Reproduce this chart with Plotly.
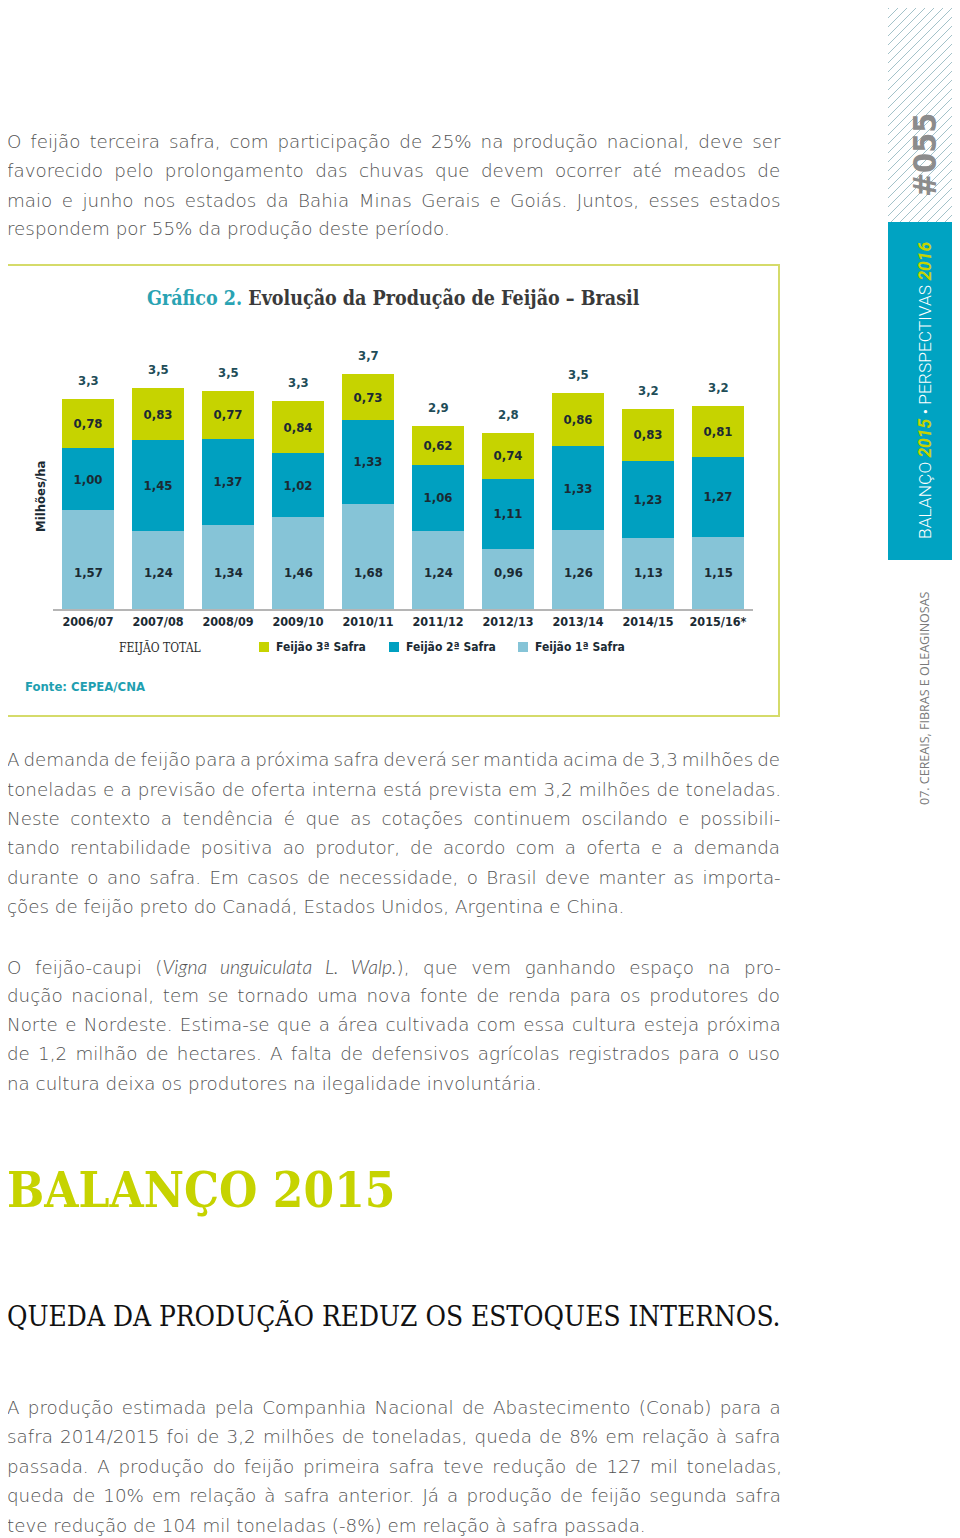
import plotly.graph_objects as go

# ---------------- data ----------------
safras = ["2006/07", "2007/08", "2008/09", "2009/10", "2010/11",
          "2011/12", "2012/13", "2013/14", "2014/15", "2015/16*"]
safra1 = [1.57, 1.24, 1.34, 1.46, 1.68, 1.24, 0.96, 1.26, 1.13, 1.15]
safra2 = [1.00, 1.45, 1.37, 1.02, 1.33, 1.06, 1.11, 1.33, 1.23, 1.27]
safra3 = [0.78, 0.83, 0.77, 0.84, 0.73, 0.62, 0.74, 0.86, 0.83, 0.81]
total_labels = ["3,3", "3,5", "3,5", "3,3", "3,7", "2,9", "2,8", "3,5", "3,2", "3,2"]
series_names = ["Feijão 3ª Safra", "Feijão 2ª Safra", "Feijão 1ª Safra"]

para1 = [
    "O feijão terceira safra, com participação de 25% na produção nacional, deve ser",
    "favorecido pelo prolongamento das chuvas que devem ocorrer até meados de",
    "maio e junho nos estados da Bahia Minas Gerais e Goiás. Juntos, esses estados",
    "respondem por 55% da produção deste período.",
]
para2 = [
    "A demanda de feijão para a próxima safra deverá ser mantida acima de 3,3 milhões de",
    "toneladas e a previsão de oferta interna está prevista em 3,2 milhões de toneladas.",
    "Neste contexto a tendência é que as cotações continuem oscilando e possibili-",
    "tando rentabilidade positiva ao produtor, de acordo com a oferta e a demanda",
    "durante o ano safra. Em casos de necessidade, o Brasil deve manter as importa-",
    "ções de feijão preto do Canadá, Estados Unidos, Argentina e China.",
]
para3 = [
    "O feijão-caupi (<i>Vigna unguiculata L. Walp.</i>), que vem ganhando espaço na pro-",
    "dução nacional, tem se tornado uma nova fonte de renda para os produtores do",
    "Norte e Nordeste. Estima-se que a área cultivada com essa cultura esteja próxima",
    "de 1,2 milhão de hectares. A falta de defensivos agrícolas registrados para o uso",
    "na cultura deixa os produtores na ilegalidade involuntária.",
]
para4 = [
    "A produção estimada pela Companhia Nacional de Abastecimento (Conab) para a",
    "safra 2014/2015 foi de 3,2 milhões de toneladas, queda de 8% em relação à safra",
    "passada. A produção do feijão primeira safra teve redução de 127 mil toneladas,",
    "queda de 10% em relação à safra anterior. Já a produção de feijão segunda safra",
    "teve redução de 104 mil toneladas (-8%) em relação à safra passada.",
]

# ---------------- style ----------------
OFF = 8                      # page body margin
W, H = 960 - 2 * OFF, 1538 - OFF
C3 = "#c6d300"
C2 = "#00a0c0"
C1 = "#86c4d7"
TEAL = "#00a3c2"
DARK = "#1b2a33"
COND = "DejaVu Sans Condensed"
SERIF = "DejaVu Serif Condensed"
BODY = "DejaVu Sans"
BODY_SIZE = 18.3
JUSTIFY_W = 773              # justified column width in px
# approximate natural rendered widths of each line at BODY_SIZE (None = ragged last line)
natural_w1 = [736, 717, 725, None]
natural_w2 = [801, 768, 722, 721, 739, None]
natural_w3 = [687, 735, 754, 741, None]
natural_w4 = [748, 753, 739, 741, None]


def px(x):
    return (x - OFF) / W


def py(y):
    return 1 - (y - OFF) / H


def fmt(v):
    return f"{v:.2f}".replace(".", ",")


def note(x, y, text, font, xanchor="center", angle=0):
    return dict(x=px(x), y=py(y), xref="paper", yref="paper", showarrow=False,
                xanchor=xanchor, yanchor="middle", text=text, font=font, textangle=angle)


lab_font = dict(family=COND, size=13, color=DARK, weight="bold")

fig = go.Figure()
fig.add_trace(go.Bar(x=safras, y=safra1, name=series_names[2], marker_color=C1,
                     marker_line_width=0, showlegend=False, hoverinfo="skip"))
fig.add_trace(go.Bar(x=safras, y=safra2, name=series_names[1], marker_color=C2,
                     marker_line_width=0, showlegend=False,
                     text=[fmt(v) for v in safra2], textposition="inside",
                     insidetextanchor="middle", textangle=0, textfont=lab_font))
fig.add_trace(go.Bar(x=safras, y=safra3, name=series_names[0], marker_color=C3,
                     marker_line_width=0, showlegend=False,
                     text=[fmt(v) for v in safra3], textposition="inside",
                     insidetextanchor="middle", textangle=0, textfont=lab_font))

annotations = []
# first-safra labels sit on a common line inside the bottom segment
for cat, v in zip(safras, safra1):
    annotations.append(dict(x=cat, y=0.575, xref="x", yref="y", text=fmt(v), showarrow=False,
                            xanchor="center", yanchor="middle", font=lab_font))
# totals above bars
for cat, a, b, c, lab in zip(safras, safra1, safra2, safra3, total_labels):
    annotations.append(dict(x=cat, y=a + b + c, xref="x", yref="y", text=lab, showarrow=False,
                            xanchor="center", yanchor="bottom", yshift=9,
                            font=dict(family=COND, size=13, color="#1f4d58", weight="bold")))

# chart title
annotations.append(note(393, 298,
                        "<span style='color:#2aa3b3'>Gráfico 2.</span> Evolução da Produção de Feijão – Brasil",
                        dict(family=SERIF, size=19.5, color="#3a3a3a", weight="bold")))
# y label
annotations.append(note(41, 497, "Milhões/ha", lab_font, angle=-90))
# legend
annotations.append(note(160, 647, "FEIJÃO TOTAL", dict(family=SERIF, size=12, color="#2b2b2b")))
shapes = []
for x0, col, name in [(259, C3, series_names[0]), (389, C2, series_names[1]), (518, C1, series_names[2])]:
    shapes.append(dict(type="rect", xref="paper", yref="paper", x0=px(x0), x1=px(x0 + 10),
                       y0=py(652), y1=py(642), fillcolor=col, line_width=0))
    annotations.append(note(x0 + 15, 647, name, dict(family=COND, size=12, color=DARK, weight="bold"),
                            xanchor="left"))
annotations.append(note(23, 686, "Fonte: CEPEA/CNA",
                        dict(family=COND, size=13, color="#1f9fb1", weight="bold"), xanchor="left"))

# chart frame
shapes.append(dict(type="rect", xref="paper", yref="paper", x0=px(6), x1=px(779),
                   y0=py(716), y1=py(265), line=dict(color="#d5db6a", width=2),
                   fillcolor="rgba(0,0,0,0)", layer="below"))

# body text
body_font = dict(family=BODY, size=BODY_SIZE, color="#525252", weight=200)
ITALIC_OPEN = "<span style='font-family:Lato;font-weight:300;font-style:italic;font-size:19.5px'>"


def add_para(lines, ys, widths):
    for t, y, w in zip(lines, ys, widths):
        t = t.replace("<i>", ITALIC_OPEN).replace("</i>", "</span>")
        if w is not None:
            n = t.count(" ") - t.count("<span ")
            ws = (JUSTIFY_W - w) / max(n, 1)
            t = f"<span style='word-spacing:{ws:.2f}px'>{t}</span>"
        annotations.append(note(5, y, t, body_font, xanchor="left"))


add_para(para1, [141, 171, 200, 229], natural_w1)
add_para(para2, [759, 789, 818, 847, 877, 906], natural_w2)
add_para(para3, [966, 995, 1024, 1053, 1083], natural_w3)
add_para(para4, [1407, 1436, 1466, 1495, 1525], natural_w4)

annotations.append(note(5, 1190, "BALANÇO 2015", dict(family=SERIF, size=49, color=C3, weight="bold"),
                        xanchor="left"))
annotations.append(note(5, 1316, "QUEDA DA PRODUÇÃO REDUZ OS ESTOQUES INTERNOS.",
                        dict(family=SERIF, size=27.8, color="#111111"), xanchor="left"))

# sidebar: hatch
x0s, x1s, y0s, y1s = 888, 960, 0, 222
c = x0s
while c < x1s + y1s:
    ya = max(y0s, c - x1s)
    yb = min(y1s, c - x0s)
    if yb > ya:
        shapes.append(dict(type="line", xref="paper", yref="paper",
                           x0=px(c - ya), y0=py(ya), x1=px(c - yb), y1=py(yb),
                           line=dict(color="#a3c2c9", width=1)))
    c += 9
shapes.append(dict(type="rect", xref="paper", yref="paper", x0=px(888), x1=px(960),
                   y0=py(560), y1=py(222), fillcolor=TEAL, line_width=0))
annotations.append(note(925, 155, "#055",
                        dict(family=COND, size=32, color="#8c8c8c", weight="bold"), angle=-90))
annotations.append(note(925, 391,
                        f"BALANÇO <i><b><span style='color:{C3}'>2015</span></b></i> • PERSPECTIVAS <i><b><span style='color:{C3}'>2016</span></b></i>",
                        dict(family="Roboto", size=17.4, color="white", weight=300), angle=-90))
annotations.append(note(925, 698, "07. CEREAIS, FIBRAS E OLEAGINOSAS",
                        dict(family="Open Sans", size=12.5, color="#7a7a7a"), angle=-90))

fig.update_layout(
    width=W, height=H,
    margin=dict(l=0, r=0, t=0, b=0),
    paper_bgcolor="white", plot_bgcolor="white",
    barmode="stack", bargap=0.257,
    showlegend=False,
    xaxis=dict(domain=[px(53), px(753)], range=[-0.5, 9.5], type="category",
               showline=True, linecolor="#b5b5b5", linewidth=2, ticks="",
               showgrid=False, zeroline=False, ticklabelstandoff=0,
               tickfont=dict(family=COND, size=12.5, color=DARK, weight="bold")),
    yaxis=dict(domain=[py(609), py(358)], range=[0, 4], visible=False, showgrid=False),
    annotations=annotations,
    shapes=shapes,
)

fig.write_html("out.html")
